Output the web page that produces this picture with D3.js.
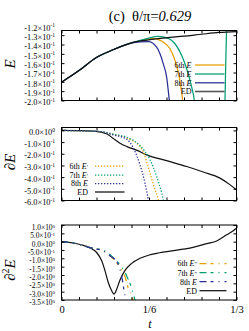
<!DOCTYPE html>
<html><head><meta charset="utf-8">
<script src="https://cdn.jsdelivr.net/npm/d3@7"></script>
<style>body{margin:0;background:#fff} svg{display:block}</style>
</head><body><svg id="c" width="249" height="331"></svg>
<script>
// ---------- data ----------
const tTicks = d3.range(0, 11).map(i => i / 30);
const xTickLabelValues = [0, 1/6, 1/3];
const xTickLabels = ["0", "1/6", "1/3"];
const seriesNames = ["6th", "7th", "8th", "ED"];
const colors = ["#e69f00", "#009e73", "#2a2f96", "#111111"];

const yTicksE  = [-0.20,-0.19,-0.18,-0.17,-0.16,-0.15,-0.14,-0.13,-0.12];
const yTicksD1 = [0,-0.1,-0.2,-0.3,-0.4,-0.5,-0.6];
const yTicksD2 = [1.0,0.5,0,-0.5,-1.0,-1.5,-2.0,-2.5,-3.0,-3.5];

// panel (c) top: E
const tE_ED = [0,0.0333,0.0657,0.0994,0.133,0.166,0.1997,0.2333,0.267,0.30,0.3333];
const vE_ED = [-0.1804,-0.1679,-0.1542,-0.1454,-0.1382,-0.1350,-0.1328,-0.1311,-0.1290,-0.1271,-0.1261];
const tE_6 = [0,0.0333,0.0657,0.0994,0.133,0.15,0.166,0.1762,0.1939,0.2067,0.2162,0.2244,0.2308,0.236];
const vE_6 = [-0.1804,-0.1679,-0.1542,-0.1454,-0.1383,-0.1358,-0.1340,-0.1336,-0.1375,-0.1446,-0.1571,-0.1750,-0.2000,-0.225];
const tE_7 = [0,0.0333,0.0657,0.0994,0.133,0.15,0.166,0.1825,0.2003,0.2162,0.229,0.2384,0.248,0.253,0.28,0.3114,0.3143,0.317];
const vE_7 = [-0.1804,-0.1679,-0.1542,-0.1454,-0.1383,-0.1356,-0.1332,-0.1314,-0.1328,-0.1392,-0.1518,-0.1660,-0.1857,-0.2000,-0.60,-0.2000,-0.125,-0.10];
const tE_8 = [0,0.0333,0.0657,0.0994,0.133,0.15,0.1654,0.1813,0.1876,0.1939,0.2003,0.2054,0.21];
const vE_8 = [-0.1804,-0.1679,-0.1542,-0.1454,-0.1385,-0.1372,-0.1368,-0.1429,-0.1500,-0.1607,-0.1750,-0.2000,-0.222];

// middle: dE
const tD_ED = [0,0.033,0.0657,0.0867,0.0981,0.1114,0.1248,0.1438,0.1623,0.2,0.2385,0.27,0.3019,0.32,0.3333];
const vD_ED = [0,-0.002,-0.0085,-0.030,-0.067,-0.109,-0.1385,-0.171,-0.209,-0.2585,-0.309,-0.356,-0.4085,-0.462,-0.5085];
const tD_6 = [0,0.0733,0.0987,0.1242,0.1337,0.1432,0.1558,0.1686,0.1781,0.1844,0.1876];
const vD_6 = [0,-0.010,-0.034,-0.064,-0.085,-0.107,-0.184,-0.366,-0.509,-0.594,-0.68];
const tD_7 = [0,0.0733,0.0987,0.1242,0.1495,0.1686,0.1813,0.1909,0.1939,0.1971];
const vD_7 = [0,-0.009,-0.032,-0.058,-0.13,-0.252,-0.395,-0.537,-0.594,-0.68];
const tD_8 = [0,0.0733,0.0987,0.1242,0.1368,0.1495,0.159,0.1653,0.1686];
const vD_8 = [0,-0.0103,-0.0385,-0.0752,-0.15,-0.295,-0.451,-0.594,-0.68];

// bottom: d2E
const tS_ED = [0,0.0219,0.039,0.0543,0.067,0.0766,0.0829,0.0891,0.0956,0.1,0.1051,0.1114,0.121,0.1337,0.1495,0.1672,0.1813,0.232,0.2505,0.2766,0.2956,0.3147,0.3272,0.3333];
const vS_ED = [0,-0.08,-0.2,-0.38,-0.65,-1.15,-1.75,-2.45,-2.95,-3.15,-2.85,-2.3,-1.72,-1.3,-1.0,-0.8,-0.7,-0.45,-0.34,-0.12,0.04,0.41,0.66,0.8];
const tS_6 = [0,0.0219,0.039,0.0543,0.067,0.0766,0.0962,0.1114,0.121,0.1272,0.1337,0.1362,0.1381];
const vS_6 = [0,-0.08,-0.2,-0.36,-0.44,-0.5,-0.95,-1.55,-2.1,-2.8,-3.25,-3.5,-3.8];
const tS_7 = [0,0.0219,0.039,0.0543,0.067,0.079,0.1,0.1152,0.1248,0.1337,0.1381,0.14,0.1419];
const vS_7 = [0,-0.08,-0.2,-0.36,-0.43,-0.5,-1.0,-1.55,-2.1,-2.8,-3.3,-3.5,-3.8];
const tS_8 = [0,0.0219,0.039,0.0543,0.067,0.0766,0.0924,0.107,0.1147,0.119,0.1223,0.1248];
const vS_8 = [0,-0.08,-0.2,-0.36,-0.45,-0.52,-0.85,-1.3,-2.1,-2.9,-3.5,-4.0];

// ---------- drawing ----------
const svg = d3.select("#c");
const SERIF = "'Liberation Serif','Times New Roman',serif";
svg.attr("font-family", SERIF);
const X0 = 61.5, X1 = 236.5;
const x = d3.scaleLinear().domain([0, 1/3]).range([X0, X1]);
const zip = (a, b) => a.map((v, i) => [v, b[i]]);

function sci(v) {
  if (Math.abs(v) < 1e-12) return ["0.0", "0"];
  const e = Math.floor(Math.log10(Math.abs(v)) + 1e-9);
  const m = v / Math.pow(10, e);
  return [m.toFixed(1), String(e)];
}

function panel(cfg) {
  const g = svg.append("g");
  const y = d3.scaleLinear().domain(cfg.domain).range([cfg.bottom, cfg.top]);
  const id = "clip" + cfg.key;
  svg.append("clipPath").attr("id", id).append("rect")
    .attr("x", X0).attr("y", cfg.top).attr("width", X1 - X0).attr("height", cfg.bottom - cfg.top);

  const line = d3.line().x(d => x(d[0])).y(d => y(d[1])).curve(d3.curveMonotoneX);
  const cg = g.append("g").attr("clip-path", `url(#${id})`);
  const series = cfg.series; // [6th,7th,8th,ED]
  const order = cfg.edFirst ? [3, 0, 1, 2] : [0, 1, 2, 3];
  order.forEach(i => {
    cg.append("path").datum(series[i]).attr("d", line)
      .attr("fill", "none").attr("stroke", colors[i])
      .attr("stroke-width", i === 3 ? 1.2 : 1.25)
      .attr("stroke-dasharray", i === 3 ? null : cfg.dash);
  });

  // axes (inner ticks on all sides)
  const inDom = d => d >= cfg.domain[0] - 1e-9 && d <= cfg.domain[1] + 1e-9;
  const left = g.append("g").attr("transform", `translate(${X0},0)`)
    .call(d3.axisLeft(y).tickValues(cfg.yTicks).tickSizeInner(-3).tickSizeOuter(0).tickFormat(""));
  left.select(".domain").remove();
  left.selectAll(".tick").filter(d => !inDom(d)).select("line").remove();
  left.selectAll(".tick").each(function(d) {
    const [m, e] = sci(d);
    const t = d3.select(this).append("text").attr("x", -6.5).attr("y", cfg.labelDy).attr("dy", "0.35em")
      .attr("text-anchor", "end").attr("fill", "#000").attr("font-size", cfg.labelSize).attr("font-family", SERIF);
    t.append("tspan").text(m + "×10");
    t.append("tspan").attr("dy", -cfg.labelSize * cfg.supRaise).attr("font-size", cfg.labelSize * 0.66).text(e);
  });
  const right = g.append("g").attr("transform", `translate(${X1},0)`)
    .call(d3.axisRight(y).tickValues(cfg.yTicks.filter(inDom)).tickSizeInner(-3).tickSizeOuter(0).tickFormat(""));
  right.select(".domain").remove();
  const top = g.append("g").attr("transform", `translate(0,${cfg.top})`)
    .call(d3.axisTop(x).tickValues(tTicks).tickSizeInner(-3).tickSizeOuter(0).tickFormat(""));
  top.select(".domain").remove();
  const bot = g.append("g").attr("transform", `translate(0,${cfg.bottom})`)
    .call(d3.axisBottom(x).tickValues(tTicks).tickSizeInner(-3).tickSizeOuter(0).tickPadding(6)
      .tickFormat(d => {
        if (!cfg.xLabels) return "";
        const k = xTickLabelValues.findIndex(v => Math.abs(v - d) < 1e-9);
        return k >= 0 ? xTickLabels[k] : "";
      }));
  bot.select(".domain").remove();
  bot.selectAll("text").attr("font-size", 10.5).attr("font-family", SERIF);

  g.append("rect").attr("x", X0).attr("y", cfg.top).attr("width", X1 - X0).attr("height", cfg.bottom - cfg.top)
    .attr("fill", "none").attr("stroke", "#000").attr("stroke-width", 1);

  // legend
  const L = cfg.legend;
  seriesNames.forEach((name, i) => {
    const ry = L.rows[i];
    const t = g.append("text").attr("x", L.textEnd).attr("y", ry + 2.8).attr("text-anchor", "end")
      .attr("font-size", 8).attr("fill", "#000");
    if (i < 3) {
      t.append("tspan").text(name + " ");
      t.append("tspan").attr("font-style", "italic").text("E");
      if (cfg.mark && i < 2) t.append("tspan").attr("font-size", 6).text(cfg.mark);
    } else {
      t.text(name);
    }
    g.append("line").attr("x1", L.x1).attr("x2", L.x2).attr("y1", ry).attr("y2", ry)
      .attr("stroke", i === 3 && cfg.key === "a" ? "#555" : colors[i])
      .attr("stroke-width", i === 3 && cfg.key === "a" ? 1.6 : 1.25)
      .attr("stroke-dasharray", i === 3 ? null : cfg.dash);
  });

  // y label
  const yl = g.append("text").attr("transform", `translate(15,${cfg.ylabelY}) rotate(-90)`)
    .attr("text-anchor", "middle").attr("font-size", 15).attr("fill", "#000");
  cfg.ylabel(yl);
  return y;
}

panel({
  key: "a", top: 30.5, bottom: 100.5, domain: [-0.2, -0.125], yTicks: yTicksE, dash: null,
  labelSize: 8.3, labelDy: 1.3, supRaise: 0.4,
  series: [zip(tE_6, vE_6), zip(tE_7, vE_7), zip(tE_8, vE_8), zip(tE_ED, vE_ED)],
  edFirst: false, xLabels: false, mark: "",
  legend: { textEnd: 191.5, x1: 195, x2: 224.5, rows: [65, 74, 82.8, 91.5] },
  ylabelY: 64,
  ylabel: t => t.append("tspan").attr("font-style", "italic").text("E")
});

panel({
  key: "b", top: 127.5, bottom: 200.5, domain: [-0.6, 0.025], yTicks: yTicksD1, dash: "1.3,1.7",
  labelSize: 8.3, labelDy: 1.3, supRaise: 0.4,
  series: [zip(tD_6, vD_6), zip(tD_7, vD_7), zip(tD_8, vD_8), zip(tD_ED, vD_ED)],
  edFirst: true, xLabels: false, mark: "′",
  legend: { textEnd: 88, x1: 95, x2: 124.5, rows: [166, 175, 183.5, 192] },
  ylabelY: 162,
  ylabel: t => { t.append("tspan").text("∂"); t.append("tspan").attr("font-style", "italic").text("E"); }
});

panel({
  key: "c", top: 225, bottom: 300, domain: [-3.5, 1.0], yTicks: yTicksD2, dash: "7,4,3,5,1,5",
  labelSize: 7.4, labelDy: 1.8, supRaise: 0.3,
  series: [zip(tS_6, vS_6), zip(tS_7, vS_7), zip(tS_8, vS_8), zip(tS_ED, vS_ED)],
  edFirst: true, xLabels: true, mark: "″",
  legend: { textEnd: 197, x1: 199.5, x2: 226.5, rows: [263.5, 272.7, 281.7, 290.7] },
  ylabelY: 270,
  ylabel: t => {
    t.append("tspan").text("∂");
    t.append("tspan").attr("font-size", 10).attr("dy", -6).text("2");
    t.append("tspan").attr("font-style", "italic").attr("dy", 6).text("E");
  }
});

// title
const title = svg.append("text").attr("x", 150).attr("y", 20.5).attr("text-anchor", "middle")
  .attr("font-size", 14.5).attr("fill", "#000");
title.append("tspan").text("(c)\u00a0\u00a0θ/π=");
title.append("tspan").attr("font-style", "italic").text("0.629");

// x label
svg.append("text").attr("x", 150).attr("y", 328).attr("text-anchor", "middle")
  .attr("font-size", 12).attr("font-style", "italic").attr("fill", "#000").text("t");
</script></body></html>
